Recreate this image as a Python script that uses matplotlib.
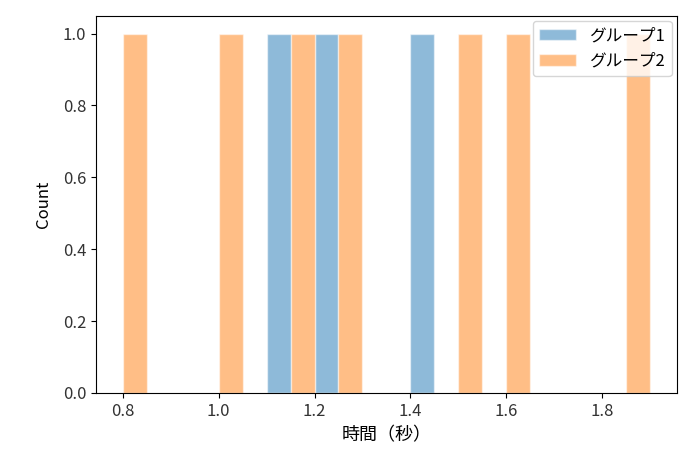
import numpy as np
import matplotlib
matplotlib.use("Agg")
import matplotlib.pyplot as plt

plt.rcParams['font.family'] = ['Noto Sans CJK JP', 'DejaVu Sans']

# reaction times per group (seconds)
group1 = [1.12, 1.22, 1.42]
group2 = [0.80, 1.02, 1.17, 1.27, 1.52, 1.62, 1.90]
labels = ["グループ1", "グループ2"]
n_bins = 22

all_vals = np.concatenate([group1, group2])
bins = np.linspace(all_vals.min(), all_vals.max(), n_bins + 1)

fig = plt.figure(figsize=(6.92, 4.59), dpi=100)
ax = fig.add_axes([0.139, 0.144, 0.839, 0.822])

ax.hist(group1, bins=bins, color="tab:blue", alpha=0.5, edgecolor="white", linewidth=1, label=labels[0])
ax.hist(group2, bins=bins, color="tab:orange", alpha=0.5, edgecolor="white", linewidth=1, label=labels[1])

ax.set_xlabel("時間（秒）", fontsize=13, labelpad=5)
ax.set_ylabel("Count", fontsize=12, labelpad=8)
ax.tick_params(labelsize=12, labelcolor="#333333")
ax.legend(loc="upper right", fontsize=12, handlelength=2.2, borderaxespad=0.3)

fig.savefig("out.png", dpi=100)
